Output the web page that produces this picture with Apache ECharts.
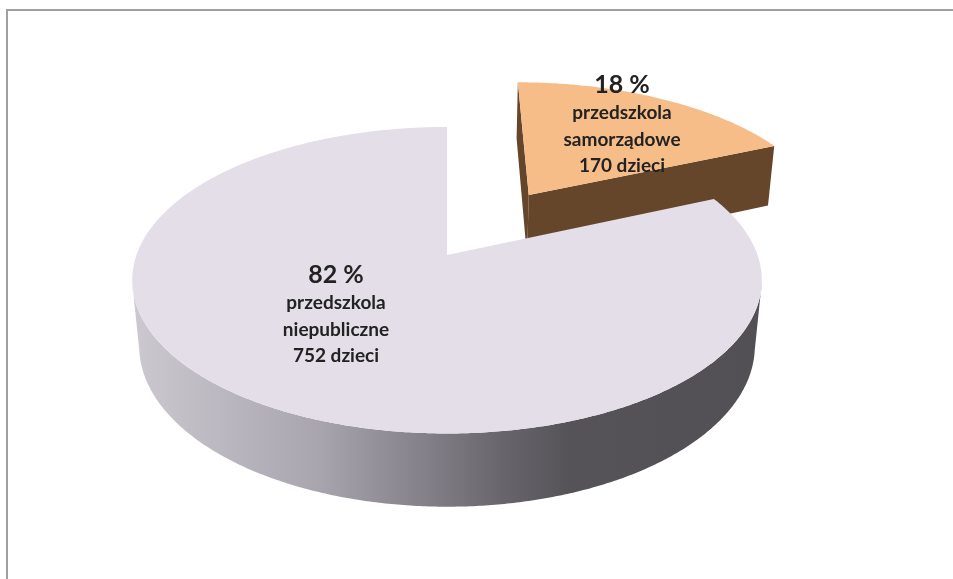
<!DOCTYPE html>
<html>
<head>
<meta charset="utf-8">
<title>Przedszkola</title>
<script src="https://cdn.jsdelivr.net/npm/echarts@6/dist/echarts.min.js"></script>
<style>
  html, body { margin: 0; padding: 0; background: #fff; }
  #chart { width: 953px; height: 579px; }
</style>
</head>
<body>
<div id="chart"></div>
<script>
// dane: liczba dzieci wg typu przedszkola (kolejnosc jak w Excelu, od godz. 12 zgodnie z zegarem)
const names = ["przedszkola samorządowe", "przedszkola niepubliczne"];
const labelLines = [["przedszkola", "samorządowe"], ["przedszkola", "niepubliczne"]];
const children = [170, 752];

const total = children.reduce((a, b) => a + b, 0);
const startAngles = [];
let acc = 0;
children.forEach(v => { startAngles.push(acc / total * 360); acc += v; });

/* ─── kamera / rzut perspektywiczny ─── */
const VIEW = {
  cx: 447, cy: 255,          // srodek tortu na ekranie
  elev: 28.7 * Math.PI / 180,
  dist: 5.33,                // odleglosc kamery (w promieniach)
  focal: 1655,
  height: 0.245,             // grubosc tortu
};
const EXPLODE = [0.515, 0];   // wysuniecie wycinka
const LABEL_POS = [[622, 69], [336, 259]];

const SIN = Math.sin(VIEW.elev), COS = Math.cos(VIEW.elev);
const CAM = [0, VIEW.dist * SIN, VIEW.dist * COS];

function project(x, y, z) {
  const dy = y - CAM[1], dz = z - CAM[2];
  const yc = dy * COS - dz * SIN;
  const zc = -dy * SIN - dz * COS;
  return [VIEW.cx + VIEW.focal * x / zc, VIEW.cy - VIEW.focal * yc / zc];
}

const rad = a => a * Math.PI / 180;

function renderItem(params, api) {
  const i = params.dataIndex;
  const value = api.value(0);
  const a1 = startAngles[i];
  const a2 = a1 + value / total * 360;
  const mid = rad((a1 + a2) / 2);
  const ox = EXPLODE[i] * Math.sin(mid), oz = -EXPLODE[i] * Math.cos(mid);
  const h = VIEW.height;
  const rim = (a, y) => project(ox + Math.sin(rad(a)), y, oz - Math.cos(rad(a)));
  const centerTop = project(ox, 0, oz), centerBot = project(ox, -h, oz);

  const isBig = i === 1;
  const topColor = isBig ? "#e3dee8" : "#f6bd89";
  const sideColor = isBig ? {
    type: "linear", global: true, x: 130, y: 0, x2: 760, y2: 0,
    colorStops: [
      { offset: 0, color: "#cdc9d1" },
      { offset: 0.3, color: "#a9a5ae" },
      { offset: 0.45, color: "#88848d" },
      { offset: 0.6, color: "#66636a" },
      { offset: 0.7, color: "#555258" },
      { offset: 1, color: "#525055" }
    ]
  } : "#65462a";
  const base = isBig ? 10 : 0;
  const els = [];

  // zewnetrzna sciana: tylko widoczne fragmenty
  let run = [];
  const runs = [];
  for (let a = a1; a <= a2 + 1e-6; a += 1) {
    const ang = Math.min(a, a2);
    const nx = Math.sin(rad(ang)), nz = -Math.cos(rad(ang));
    const px = ox + nx, pz = oz + nz;
    const vis = nx * (CAM[0] - px) + nz * (CAM[2] - pz) > 0;
    if (vis) run.push(ang); else if (run.length) { runs.push(run); run = []; }
  }
  if (run.length) runs.push(run);
  runs.forEach(r => {
    const lo = Math.max(a1, r[0] - 2), hi = Math.min(a2, r[r.length - 1] + 2);
    const pts = [];
    for (let a = lo; a <= hi; a += 0.5) pts.push(rim(a, 0));
    for (let a = hi; a >= lo; a -= 0.5) pts.push(rim(a, -h));
    els.push({ type: "polygon", z2: base + 1, shape: { points: pts }, style: { fill: sideColor } });
  });

  // sciany promieniowe
  [[a1, -1], [a2, 1]].forEach(([a, sgn]) => {
    const tx = Math.cos(rad(a)) * sgn, tz = Math.sin(rad(a)) * sgn;
    const px = ox + 0.5 * Math.sin(rad(a)), pz = oz - 0.5 * Math.cos(rad(a));
    const dot = tx * (CAM[0] - px) + tz * (CAM[2] - pz);
    if (dot > 0.01) {
      els.push({
        type: "polygon", z2: base + 1,
        shape: { points: [centerTop, rim(a, 0), rim(a, -h), centerBot] },
        style: { fill: isBig ? "#8f8b95" : "#65462a" }
      });
    }
  });

  // wierzch
  const top = [centerTop];
  for (let a = a1; a <= a2 + 1e-6; a += 0.5) top.push(rim(Math.min(a, a2), 0));
  top.push(rim(a2, 0));
  els.push({ type: "polygon", z2: base + 2, shape: { points: top }, style: { fill: topColor } });

  // etykieta
  const pct = Math.round(value / total * 100);
  els.push({
    type: "text", z2: 100,
    x: LABEL_POS[i][0], y: LABEL_POS[i][1],
    style: {
      text: "{p|" + pct + " %}\n" + labelLines[i].map(s => "{t|" + s + "}").join("\n") + "\n{t|" + value + " dzieci}",
      align: "center", verticalAlign: "top",
      rich: {
        p: { fontFamily: "Lato", fontWeight: "bold", fontSize: 25, lineHeight: 31, fill: "#222", align: "center" },
        t: { fontFamily: "Lato", fontWeight: "bold", fontSize: 19, lineHeight: 26.5, fill: "#222", align: "center" }
      }
    }
  });

  return { type: "group", children: els };
}

const chart = echarts.init(document.getElementById("chart"));
chart.setOption({
  backgroundColor: "#fff",
  animation: false,
  graphic: [{
    type: "rect", z: -1,
    shape: { x: 7, y: 10, width: 2000, height: 2000 },
    style: { fill: null, stroke: "#a0a0a0", lineWidth: 2 }
  }],
  series: [{
    type: "custom",
    coordinateSystem: "none",
    renderItem: renderItem,
    data: children.map((v, i) => ({ name: names[i], value: [v] }))
  }]
});
window.addEventListener("resize", () => chart.resize());
</script>
</body>
</html>
